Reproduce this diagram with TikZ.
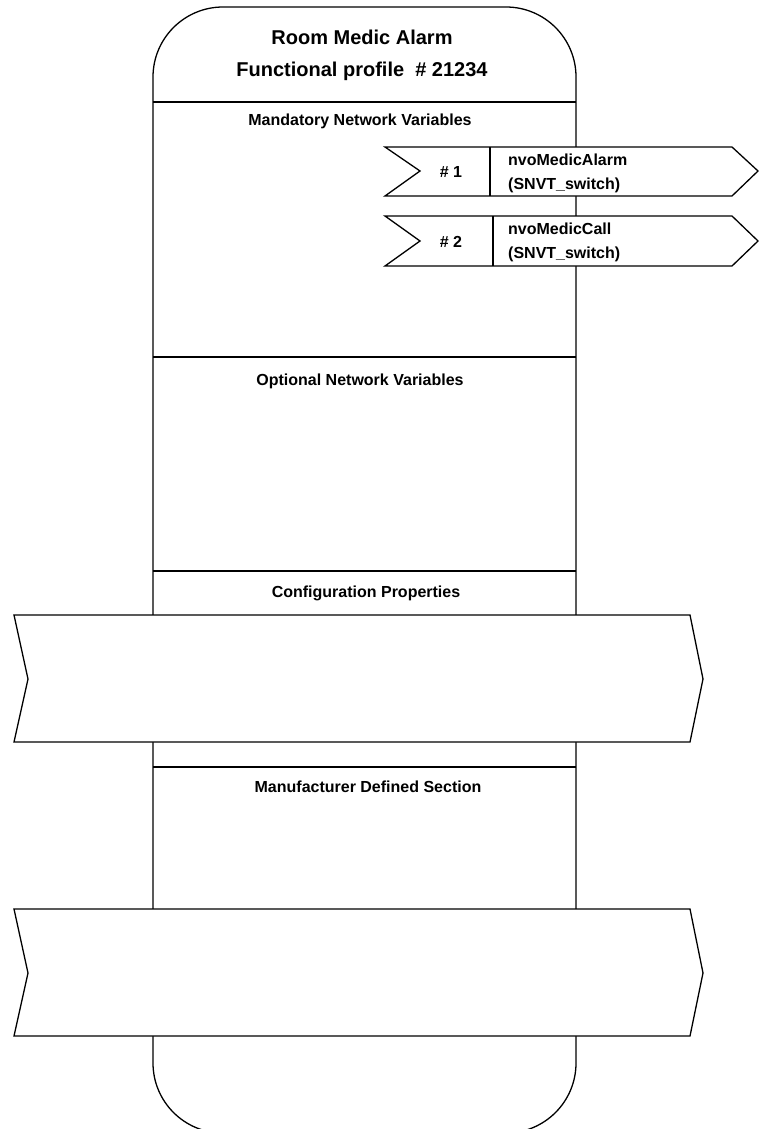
\documentclass[tikz,border=0pt]{standalone}
\usepackage{fontspec}
\setmainfont{Liberation Sans}
\begin{document}
\begin{tikzpicture}[x=1pt,y=-1pt,
  outline/.style={draw=black,line width=1.3pt,line join=miter},
  whitebox/.style={draw=black,fill=white,line width=1.3pt,line join=miter},
  titletxt/.style={font=\fontsize{20}{24}\selectfont\bfseries,anchor=base,inner sep=0pt},
  sectxt/.style={font=\fontsize{16}{19}\selectfont\bfseries,anchor=base,inner sep=0pt},
  nvtxt/.style={font=\fontsize{16}{19}\selectfont\bfseries,anchor=base west,inner sep=0pt}]
\useasboundingbox (0,0) rectangle (759,1129);
\clip (0,0) rectangle (759,1129);
\fill[white] (0,0) rectangle (759,1129);
% body
\draw[outline,rounded corners=70pt] (153,7) rectangle (576,1133);
\draw[outline] (153,102) -- (576,102);
\draw[outline] (153,357) -- (576,357);
\draw[outline] (153,571) -- (576,571);
\draw[outline] (153,767) -- (576,767);
% titles
\node[titletxt] (t1) at (362,45) {Room Medic Alarm};
\node[titletxt] (t2) at (362,77) {Functional profile \ \# 21234};
\node[sectxt] (s1) at (360,126) {Mandatory Network Variables};
\node[sectxt] (s2) at (360,385) {Optional Network Variables};
\node[sectxt] (s3) at (366,597) {Configuration Properties};
\node[sectxt] (s4) at (368,792) {Manufacturer Defined Section};
% nv arrows
\draw[whitebox] (385,147) -- (732,147) -- (758,171) -- (732,196) -- (385,196) -- (420,171) -- cycle;
\draw[outline] (490,147) -- (490,196);
\node[sectxt] (n1) at (451,177) {\# 1};
\node[nvtxt] (nv1a) at (508,165) {nvoMedicAlarm};
\node[nvtxt] (nv1b) at (508,189) {(SNVT\_switch)};
\draw[whitebox] (385,216) -- (732,216) -- (758,241) -- (732,266) -- (385,266) -- (420,241) -- cycle;
\draw[outline] (493,216) -- (493,266);
\node[sectxt] (n2) at (451,247) {\# 2};
\node[nvtxt] (nv2a) at (508,234) {nvoMedicCall};
\node[nvtxt] (nv2b) at (508,258) {(SNVT\_switch)};
% banners
\draw[whitebox] (14,615) -- (690,615) -- (703,679) -- (690,742) -- (14,742) -- (28,679) -- cycle;
\draw[whitebox] (14,909) -- (690,909) -- (703,973) -- (690,1036) -- (14,1036) -- (28,973) -- cycle;
\end{tikzpicture}
\end{document}
